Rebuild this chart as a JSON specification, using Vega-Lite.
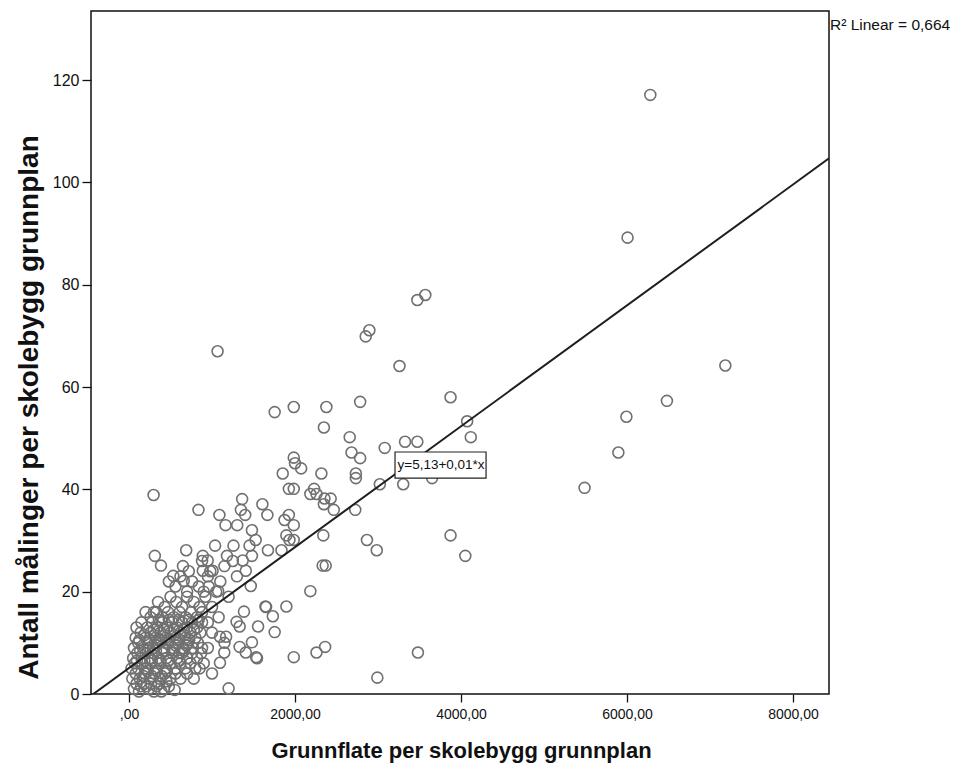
{
  "$schema": "https://vega.github.io/schema/vega-lite/v6.json",
  "width": 738,
  "height": 683,
  "autosize": "none",
  "padding": {"left": 91, "top": 11, "right": 134, "bottom": 73},
  "background": "white",
  "config": {
    "view": {"stroke": "#111", "strokeWidth": 1.5},
    "font": "Liberation Sans",
    "axis": {"grid": false, "domain": false, "tickColor": "#111", "tickWidth": 1.3, "labelColor": "#111", "titleColor": "#111", "labelFont": "Liberation Sans", "titleFont": "Liberation Sans"}
  },
  "datasets": {
    "pts": [
      {"x": 6281, "y": 117.1}, {"x": 6007, "y": 89.2}, {"x": 3474, "y": 77.0}, {"x": 3570, "y": 78.0},
      {"x": 1067, "y": 67.0}, {"x": 2852, "y": 69.9}, {"x": 2896, "y": 71.1}, {"x": 3259, "y": 64.1},
      {"x": 7185, "y": 64.2}, {"x": 3874, "y": 58.0}, {"x": 2785, "y": 57.1}, {"x": 6481, "y": 57.3},
      {"x": 1755, "y": 55.1}, {"x": 1985, "y": 56.1}, {"x": 2378, "y": 56.1}, {"x": 5993, "y": 54.2},
      {"x": 4074, "y": 53.3}, {"x": 2348, "y": 52.1}, {"x": 2659, "y": 50.2}, {"x": 4118, "y": 50.2},
      {"x": 3326, "y": 49.3}, {"x": 3474, "y": 49.3}, {"x": 3081, "y": 48.1}, {"x": 2681, "y": 47.2},
      {"x": 5896, "y": 47.2}, {"x": 2785, "y": 46.1}, {"x": 1985, "y": 46.2}, {"x": 2000, "y": 45.1},
      {"x": 2074, "y": 44.1}, {"x": 1852, "y": 43.1}, {"x": 2318, "y": 43.1}, {"x": 2733, "y": 43.1},
      {"x": 2733, "y": 42.2}, {"x": 3652, "y": 42.2}, {"x": 3022, "y": 41.0}, {"x": 3304, "y": 41.0},
      {"x": 5489, "y": 40.3}, {"x": 1926, "y": 40.1}, {"x": 1985, "y": 40.1}, {"x": 2230, "y": 40.1},
      {"x": 2259, "y": 39.1}, {"x": 296, "y": 38.9}, {"x": 2185, "y": 39.1}, {"x": 2430, "y": 38.2},
      {"x": 1363, "y": 38.1}, {"x": 2355, "y": 38.2}, {"x": 1607, "y": 37.1}, {"x": 2348, "y": 37.1},
      {"x": 2467, "y": 36.0}, {"x": 2726, "y": 36.0}, {"x": 837, "y": 36.0}, {"x": 1348, "y": 36.0},
      {"x": 1400, "y": 35.0}, {"x": 1667, "y": 35.0}, {"x": 1926, "y": 35.0}, {"x": 1089, "y": 35.0},
      {"x": 1874, "y": 34.0}, {"x": 1304, "y": 33.0}, {"x": 1163, "y": 33.0}, {"x": 1985, "y": 33.0},
      {"x": 1481, "y": 32.0}, {"x": 2341, "y": 31.0}, {"x": 3874, "y": 31.0}, {"x": 1896, "y": 31.0},
      {"x": 1526, "y": 30.1}, {"x": 1933, "y": 30.1}, {"x": 1985, "y": 30.1}, {"x": 2867, "y": 30.1},
      {"x": 1259, "y": 29.0}, {"x": 1037, "y": 29.0}, {"x": 1452, "y": 29.0}, {"x": 2985, "y": 28.1},
      {"x": 689, "y": 28.1}, {"x": 1674, "y": 28.1}, {"x": 1837, "y": 28.1}, {"x": 889, "y": 27.0},
      {"x": 311, "y": 27.0}, {"x": 4052, "y": 27.0}, {"x": 1481, "y": 27.0}, {"x": 385, "y": 25.1},
      {"x": 2333, "y": 25.1}, {"x": 2370, "y": 25.1}, {"x": 948, "y": 26.1}, {"x": 1370, "y": 26.1},
      {"x": 1407, "y": 24.1}, {"x": 533, "y": 23.1}, {"x": 889, "y": 24.1}, {"x": 1007, "y": 24.1},
      {"x": 1467, "y": 21.1}, {"x": 659, "y": 22.1}, {"x": 1074, "y": 20.1}, {"x": 2185, "y": 20.1},
      {"x": 1644, "y": 17.1}, {"x": 1896, "y": 17.1}, {"x": 1385, "y": 16.1}, {"x": 1555, "y": 13.2},
      {"x": 1755, "y": 12.1}, {"x": 1096, "y": 11.2}, {"x": 1170, "y": 11.2}, {"x": 1481, "y": 10.1},
      {"x": 1333, "y": 9.2}, {"x": 2363, "y": 9.2}, {"x": 2259, "y": 8.1}, {"x": 3481, "y": 8.1},
      {"x": 1096, "y": 6.1}, {"x": 1533, "y": 7.2}, {"x": 1985, "y": 7.2}, {"x": 2992, "y": 3.2},
      {"x": 1200, "y": 1.1}, {"x": 1148, "y": 8.1}, {"x": 1407, "y": 8.1}, {"x": 1296, "y": 14.1},
      {"x": 1333, "y": 13.2}, {"x": 1733, "y": 15.2}, {"x": 1651, "y": 17.0}, {"x": 1542, "y": 7.0},
      {"x": 60, "y": 1}, {"x": 120, "y": 0.5}, {"x": 180, "y": 2}, {"x": 240, "y": 1}, {"x": 300, "y": 0.5},
      {"x": 360, "y": 2}, {"x": 420, "y": 1}, {"x": 480, "y": 1.5}, {"x": 550, "y": 0.8}, {"x": 90, "y": 2}, {"x": 210, "y": 1.5},
      {"x": 40, "y": 3}, {"x": 80, "y": 4}, {"x": 130, "y": 3}, {"x": 190, "y": 4}, {"x": 250, "y": 3}, {"x": 310, "y": 4},
      {"x": 370, "y": 3}, {"x": 430, "y": 4}, {"x": 500, "y": 3}, {"x": 560, "y": 4}, {"x": 620, "y": 3}, {"x": 700, "y": 4},
      {"x": 30, "y": 5}, {"x": 70, "y": 6}, {"x": 110, "y": 5}, {"x": 160, "y": 6}, {"x": 210, "y": 5}, {"x": 260, "y": 6},
      {"x": 320, "y": 5}, {"x": 380, "y": 6}, {"x": 440, "y": 5}, {"x": 500, "y": 6}, {"x": 560, "y": 5}, {"x": 620, "y": 6},
      {"x": 680, "y": 5}, {"x": 740, "y": 6}, {"x": 800, "y": 5},
      {"x": 50, "y": 7}, {"x": 100, "y": 8}, {"x": 150, "y": 7}, {"x": 200, "y": 8}, {"x": 250, "y": 7}, {"x": 300, "y": 8},
      {"x": 350, "y": 7}, {"x": 400, "y": 8}, {"x": 450, "y": 7}, {"x": 520, "y": 8}, {"x": 580, "y": 7}, {"x": 640, "y": 8},
      {"x": 700, "y": 7}, {"x": 760, "y": 8}, {"x": 820, "y": 7}, {"x": 870, "y": 8},
      {"x": 60, "y": 9}, {"x": 110, "y": 10}, {"x": 170, "y": 9}, {"x": 230, "y": 10}, {"x": 290, "y": 9}, {"x": 350, "y": 10},
      {"x": 410, "y": 9}, {"x": 470, "y": 10}, {"x": 530, "y": 9}, {"x": 590, "y": 10}, {"x": 650, "y": 9}, {"x": 710, "y": 10},
      {"x": 770, "y": 9}, {"x": 830, "y": 10}, {"x": 880, "y": 9},
      {"x": 80, "y": 11}, {"x": 140, "y": 12}, {"x": 200, "y": 11}, {"x": 260, "y": 12}, {"x": 320, "y": 11}, {"x": 380, "y": 12},
      {"x": 440, "y": 11}, {"x": 500, "y": 12}, {"x": 560, "y": 11}, {"x": 620, "y": 12}, {"x": 680, "y": 11}, {"x": 740, "y": 12},
      {"x": 800, "y": 11}, {"x": 860, "y": 12},
      {"x": 90, "y": 13}, {"x": 150, "y": 14}, {"x": 220, "y": 13}, {"x": 280, "y": 14}, {"x": 340, "y": 13}, {"x": 400, "y": 14},
      {"x": 460, "y": 13}, {"x": 520, "y": 14}, {"x": 580, "y": 13}, {"x": 640, "y": 14}, {"x": 700, "y": 13}, {"x": 760, "y": 14},
      {"x": 820, "y": 13}, {"x": 880, "y": 14},
      {"x": 200, "y": 16}, {"x": 260, "y": 15}, {"x": 330, "y": 16}, {"x": 400, "y": 15}, {"x": 470, "y": 16}, {"x": 540, "y": 15},
      {"x": 610, "y": 16}, {"x": 680, "y": 15}, {"x": 750, "y": 16}, {"x": 820, "y": 15}, {"x": 880, "y": 16}, {"x": 300, "y": 16},
      {"x": 350, "y": 18}, {"x": 430, "y": 17}, {"x": 500, "y": 19}, {"x": 570, "y": 18}, {"x": 640, "y": 17}, {"x": 700, "y": 19},
      {"x": 780, "y": 18}, {"x": 850, "y": 17}, {"x": 920, "y": 19},
      {"x": 480, "y": 22}, {"x": 560, "y": 21}, {"x": 620, "y": 23}, {"x": 700, "y": 20}, {"x": 760, "y": 22}, {"x": 840, "y": 21},
      {"x": 900, "y": 20}, {"x": 950, "y": 23},
      {"x": 650, "y": 25}, {"x": 720, "y": 24}, {"x": 880, "y": 26}, {"x": 980, "y": 24},
      {"x": 950, "y": 14}, {"x": 1000, "y": 17}, {"x": 1050, "y": 20}, {"x": 1100, "y": 22}, {"x": 1150, "y": 25}, {"x": 1200, "y": 19},
      {"x": 1000, "y": 12}, {"x": 1080, "y": 15}, {"x": 1250, "y": 26}, {"x": 1300, "y": 23}, {"x": 1180, "y": 27}, {"x": 960, "y": 21},
      {"x": 900, "y": 6}, {"x": 950, "y": 9}, {"x": 1000, "y": 4}, {"x": 780, "y": 3}, {"x": 850, "y": 5}, {"x": 1150, "y": 10},
      {"x": 95, "y": 6.5}, {"x": 135, "y": 8.5}, {"x": 185, "y": 6.5}, {"x": 225, "y": 8.5}, {"x": 275, "y": 6.5}, {"x": 325, "y": 8.5},
      {"x": 375, "y": 6.5}, {"x": 425, "y": 8.5}, {"x": 475, "y": 6.5}, {"x": 545, "y": 8.5}, {"x": 605, "y": 6.5}, {"x": 665, "y": 8.5},
      {"x": 125, "y": 10.5}, {"x": 185, "y": 11.5}, {"x": 245, "y": 10.5}, {"x": 305, "y": 11.5}, {"x": 365, "y": 10.5}, {"x": 425, "y": 11.5},
      {"x": 485, "y": 10.5}, {"x": 545, "y": 11.5}, {"x": 605, "y": 10.5}, {"x": 665, "y": 11.5}, {"x": 725, "y": 10.5},
      {"x": 175, "y": 3.5}, {"x": 225, "y": 4.5}, {"x": 275, "y": 3.5}, {"x": 335, "y": 4.5}, {"x": 395, "y": 3.5}, {"x": 455, "y": 4.5},
      {"x": 145, "y": 1.5}, {"x": 265, "y": 2}, {"x": 330, "y": 1.5}, {"x": 390, "y": 0.5}, {"x": 450, "y": 2.5},
      {"x": 300, "y": 12.5}, {"x": 360, "y": 14.5}, {"x": 420, "y": 12.5}, {"x": 480, "y": 14.5}, {"x": 540, "y": 12.5}, {"x": 600, "y": 14.5},
      {"x": 660, "y": 12.5}, {"x": 720, "y": 14.5}, {"x": 780, "y": 12.5}, {"x": 840, "y": 14.5},
      {"x": 240, "y": 9}, {"x": 330, "y": 9.5}, {"x": 390, "y": 10.5}, {"x": 560, "y": 9.5}, {"x": 690, "y": 9.5}, {"x": 610, "y": 8}
    ],
    "fit": [{"x": -430, "y": 0}, {"x": 8434, "y": 104.7}],
    "eq": [{"x": 3205, "x2": 4302, "y": 47.3, "y2": 42.2, "tx": 3235, "ty": 44.8, "label": "y=5,13+0,01*x"}],
    "r2": [{"x": 8434, "y": 130.7, "label": "R² Linear = 0,664"}]
  },
  "layer": [
    {
      "data": {"name": "pts"},
      "mark": {"type": "point", "filled": false, "stroke": "#707070", "strokeWidth": 1.6, "size": 120, "opacity": 1},
      "encoding": {
        "x": {"field": "x", "type": "quantitative", "scale": {"domain": [-458, 8434], "nice": false, "zero": false},
          "axis": {"values": [0, 2000, 4000, 6000, 8000], "tickSize": 8, "labelPadding": 5, "labelFontSize": 14,
            "labelExpr": "datum.value == 0 ? ',00' : replace(format(datum.value, '.2f'), '.', ',')",
            "title": "Grunnflate per skolebygg grunnplan", "titleFontSize": 22, "titleFontWeight": "bold",
            "titleX": 370, "titleY": 56, "titleBaseline": "middle", "titleAnchor": null}},
        "y": {"field": "y", "type": "quantitative", "scale": {"domain": [0, 133.5], "nice": false},
          "axis": {"values": [0, 20, 40, 60, 80, 100, 120], "tickSize": 9, "labelPadding": 3, "labelFontSize": 16,
            "title": "Antall målinger per skolebygg grunnplan", "titleFontSize": 28, "titleFontWeight": "bold",
            "titleX": -62, "titleY": 396, "titleAngle": -90, "titleBaseline": "middle", "titleAlign": "center"}}
      }
    },
    {
      "data": {"name": "fit"},
      "mark": {"type": "line", "color": "#1e1e1e", "strokeWidth": 2, "clip": true},
      "encoding": {
        "x": {"field": "x", "type": "quantitative"},
        "y": {"field": "y", "type": "quantitative"}
      }
    },
    {
      "data": {"name": "eq"},
      "mark": {"type": "rect", "fill": "white", "stroke": "#222", "strokeWidth": 1.2},
      "encoding": {
        "x": {"field": "x", "type": "quantitative"},
        "x2": {"field": "x2"},
        "y": {"field": "y", "type": "quantitative"},
        "y2": {"field": "y2"}
      }
    },
    {
      "data": {"name": "eq"},
      "mark": {"type": "text", "align": "left", "baseline": "middle", "fontSize": 13.5, "color": "#111", "font": "Liberation Sans"},
      "encoding": {
        "x": {"field": "tx", "type": "quantitative"},
        "y": {"field": "ty", "type": "quantitative"},
        "text": {"field": "label"}
      }
    },
    {
      "data": {"name": "r2"},
      "mark": {"type": "text", "align": "left", "baseline": "middle", "fontSize": 15.5, "dx": 1, "color": "#111", "font": "Liberation Sans"},
      "encoding": {
        "x": {"field": "x", "type": "quantitative"},
        "y": {"field": "y", "type": "quantitative"},
        "text": {"field": "label"}
      }
    }
  ]
}
